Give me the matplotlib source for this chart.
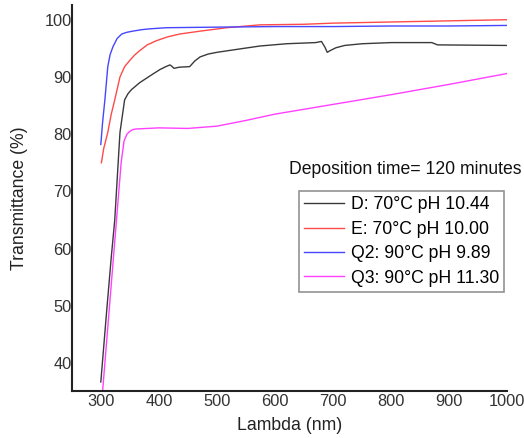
import numpy as np
import matplotlib
matplotlib.use("Agg")
from matplotlib import pyplot as plt

plt.rcParams['font.family'] = ['Liberation Sans', 'DejaVu Sans']

# D: 70C pH 10.44
d_x = [300, 310, 318, 324, 333, 341, 347, 353, 360, 367, 385, 402, 412, 419, 422, 426, 435, 453, 462, 471, 485,
       500, 520, 540, 574, 620, 670, 680, 686, 690, 695, 705, 720, 750, 800, 870, 880, 1000]
d_y = [36.7, 49, 58.5, 65, 80.3, 86.0, 87.1, 87.8, 88.4, 89.0, 90.2, 91.3, 91.8, 92.1, 91.9, 91.5, 91.7, 91.8, 92.8,
       93.5, 94.0, 94.3, 94.6, 94.9, 95.4, 95.8, 96.0, 96.2, 95.2, 94.3, 94.6, 95.1, 95.5, 95.8, 96.0, 96.0, 95.6, 95.5]

# E: 70C pH 10.00
e_x = [301, 305, 312, 318, 324, 333, 341, 350, 358, 367, 380, 395, 415, 436, 471, 517, 574, 650, 700, 800, 900, 1000]
e_y = [75.0, 77.5, 80.3, 83.5, 86.0, 90.0, 91.8, 92.9, 93.8, 94.6, 95.6, 96.3, 97.0, 97.5, 98.0, 98.6, 99.1, 99.2,
       99.4, 99.6, 99.8, 100.0]

# Q2: 90C pH 9.89
q2_x = [300, 303, 307, 312, 316, 321, 328, 336, 345, 355, 370, 384, 413, 500, 600, 700, 800, 900, 1000]
q2_y = [78.2, 82, 86.0, 91.8, 93.9, 95.3, 96.7, 97.5, 97.8, 98.0, 98.25, 98.4, 98.6, 98.7, 98.8, 98.8, 98.9, 98.9, 99.0]

# Q3: 90C pH 11.30
q3_x = [300, 303, 315, 327, 335, 340, 345, 350, 355, 360, 400, 450, 500, 550, 600, 700, 800, 900, 1000]
q3_y = [31, 35, 50, 65, 75, 78.8, 80.0, 80.5, 80.8, 80.9, 81.1, 81.0, 81.4, 82.4, 83.5, 85.2, 86.9, 88.7, 90.6]

labels = ["D: 70°C pH 10.44", "E: 70°C pH 10.00", "Q2: 90°C pH 9.89", "Q3: 90°C pH 11.30"]
colors = ["#3a3a3a", "#ff4a4a", "#4646ff", "#ff40ff"]

fig = plt.figure(figsize=(5.24, 4.38), dpi=100)
ax = fig.add_axes([0.137, 0.107, 0.831, 0.882])

for xs, ys, lab, c in zip([d_x, e_x, q2_x, q3_x], [d_y, e_y, q2_y, q3_y], labels, colors):
    ax.plot(xs, ys, color=c, lw=1.0, label=lab)

ax.set_xlim(250, 1000)
ax.set_ylim(35.1, 102.6)
ax.set_xticks(range(300, 1001, 100))
ax.set_yticks(range(40, 101, 10))
ax.tick_params(length=0, labelsize=11.8, labelcolor="#333333")
ax.tick_params(axis='y', pad=0)
ax.tick_params(axis='x', pad=2)
for s in ['top', 'right']:
    ax.spines[s].set_visible(False)
for s in ['left', 'bottom']:
    ax.spines[s].set_linewidth(1.5)
    ax.spines[s].set_color("#222222")

ax.set_xlabel("Lambda (nm)", fontsize=12.7, color="#222222", labelpad=6)
ax.set_ylabel("Transmittance (%)", fontsize=12.7, color="#222222", labelpad=12)

leg = ax.legend(loc='upper right', bbox_to_anchor=(0.993, 0.518), fontsize=12.7, frameon=True,
                fancybox=False, edgecolor="#777777", handlelength=2.3, handletextpad=0.35,
                labelspacing=0.42, borderpad=0.3, borderaxespad=0)
leg.get_frame().set_linewidth(1.2)

fig.text(0.995, 0.612, "Deposition time= 120 minutes", ha='right', va='center', fontsize=12.7,
         color="#111111")

fig.savefig("out.png", dpi=100)
